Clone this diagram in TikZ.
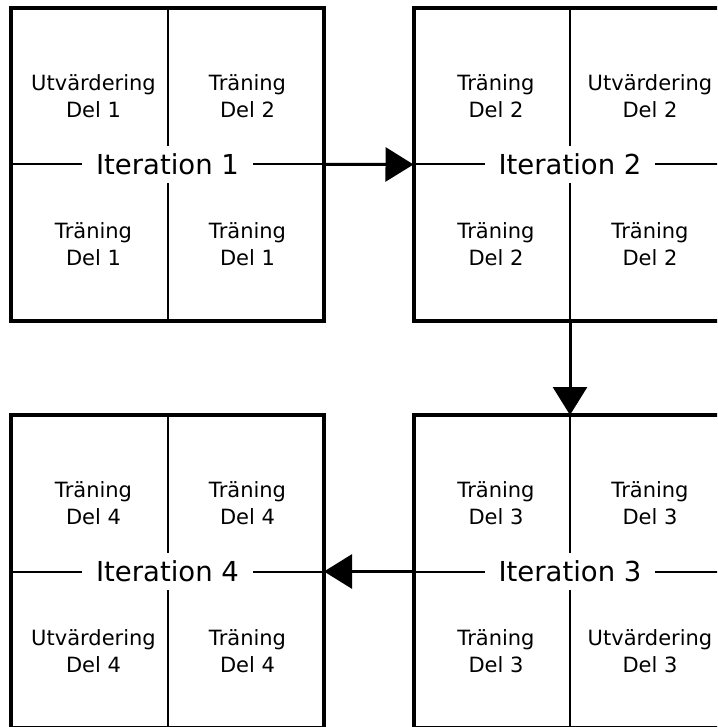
\documentclass[tikz,border=0pt]{standalone}
\usepackage{fontspec}
\setmainfont{DejaVu Sans}
\usetikzlibrary{arrows.meta}
\begin{document}
\begin{tikzpicture}[x=1pt,y=-1pt,
  fold/.style={draw, line width=4pt, minimum width=313pt, minimum height=313pt,
               inner sep=0pt, outer sep=0pt},
  divider/.style={line width=2pt},
  cell/.style={align=center, font=\fontsize{21}{27}\selectfont, inner sep=0pt},
  itlabel/.style={fill=white, font=\fontsize{27.5}{33}\selectfont,
                  inner xsep=14pt, inner ysep=0pt, minimum height=37pt},
  flow/.style={line width=3pt, -{Triangle[length=28pt,width=34pt]}}]
\useasboundingbox (0,0) rectangle (717,727);
\clip (0,0) rectangle (717,727);

% the four folds
\node[fold] (b1) at (167.5,164.25) {};
\node[fold] (b2) at (570,164.5) {};
\node[fold] (b3) at (570,571.5) {};
\node[fold] (b4) at (167.5,571.5) {};

% quarter dividers
\foreach \b in {b1,b2,b3,b4} {
  \draw[divider] (\b.north) -- (\b.south);
  \draw[divider] (\b.west) -- (\b.east);
}

% iteration labels
\node[itlabel] (l1) at (b1.center) {Iteration 1};
\node[itlabel] (l2) at (b2.center) {Iteration 2};
\node[itlabel] (l3) at (b3.center) {Iteration 3};
\node[itlabel] (l4) at (b4.center) {Iteration 4};

% iteration 1
\node[cell] (c1a) at ([shift={(-74,-68)}]b1.center) {Utvärdering\\Del 1};
\node[cell] (c1b) at ([shift={(80,-68)}]b1.center) {Träning\\Del 2};
\node[cell] (c1c) at ([shift={(-74,80)}]b1.center) {Träning\\Del 1};
\node[cell] (c1d) at ([shift={(80,80)}]b1.center) {Träning\\Del 1};

% iteration 2
\node[cell] (c2a) at ([shift={(-74,-68)}]b2.center) {Träning\\Del 2};
\node[cell] (c2b) at ([shift={(80,-68)}]b2.center) {Utvärdering\\Del 2};
\node[cell] (c2c) at ([shift={(-74,80)}]b2.center) {Träning\\Del 2};
\node[cell] (c2d) at ([shift={(80,80)}]b2.center) {Träning\\Del 2};

% iteration 3
\node[cell] (c3a) at ([shift={(-74,-68)}]b3.center) {Träning\\Del 3};
\node[cell] (c3b) at ([shift={(80,-68)}]b3.center) {Träning\\Del 3};
\node[cell] (c3c) at ([shift={(-74,80)}]b3.center) {Träning\\Del 3};
\node[cell] (c3d) at ([shift={(80,80)}]b3.center) {Utvärdering\\Del 3};

% iteration 4
\node[cell] (c4a) at ([shift={(-74,-68)}]b4.center) {Träning\\Del 4};
\node[cell] (c4b) at ([shift={(80,-68)}]b4.center) {Träning\\Del 4};
\node[cell] (c4c) at ([shift={(-74,80)}]b4.center) {Utvärdering\\Del 4};
\node[cell] (c4d) at ([shift={(80,80)}]b4.center) {Träning\\Del 4};

% flow between iterations
\draw[flow] (b1.east) -- (b2.west);
\draw[flow] (b2.south) -- (b3.north);
\draw[flow] (b3.west) -- (b4.east);
\end{tikzpicture}
\end{document}
